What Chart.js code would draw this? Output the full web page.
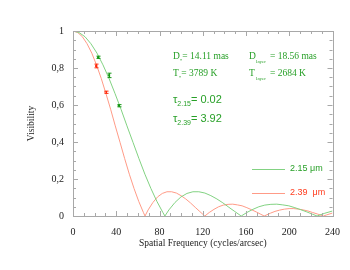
<!DOCTYPE html>
<html>
<head>
<meta charset="utf-8">
<script src="https://cdn.jsdelivr.net/npm/chart.js@4/dist/chart.umd.min.js"></script>
<style>
  body { margin: 0; background: #fff; }
  #wrap { width: 350px; height: 270px; }
</style>
</head>
<body>
<div id="wrap"><canvas id="visChart" width="350" height="270"></canvas></div>
<script>
// model curves (spatial frequency, visibility)
var greenFreq = [0, 5.5, 11.1, 16.6, 22.2, 27.7, 33.3, 38.8, 44.4, 49.9, 55.5, 61.0, 66.5, 72.1, 77.6, 83.2, 85.0,
  88.7, 94.3, 99.8, 105.4, 110.9, 116.4, 122.0, 127.5, 133.1, 138.6, 144.2, 149.7, 155.3, 155.6,
  160.8, 166.4, 171.9, 177.4, 183.0, 188.5, 194.1, 199.6, 205.2, 210.7, 216.3, 221.8, 225.7, 232.9, 240];
var greenVis = [1, 0.992, 0.969, 0.931, 0.880, 0.817, 0.744, 0.663, 0.577, 0.487, 0.398, 0.310, 0.226, 0.148, 0.079, 0.018, 0,
  0.033, 0.073, 0.103, 0.122, 0.131, 0.131, 0.124, 0.110, 0.092, 0.071, 0.047, 0.024, 0.001, 0,
  0.019, 0.036, 0.050, 0.059, 0.063, 0.064, 0.060, 0.055, 0.045, 0.034, 0.022, 0.009, 0, 0.015, 0.027];

var redFreq = [0, 4.3, 8.7, 13.0, 17.4, 21.7, 26.1, 30.4, 34.8, 39.1, 43.5, 47.8, 52.1, 56.5, 60.8, 65.2, 66.6,
  69.5, 73.9, 78.2, 82.6, 86.9, 91.2, 95.6, 99.9, 104.3, 108.6, 113.0, 117.3, 121.7, 121.9,
  126.0, 130.4, 134.7, 139.0, 143.4, 147.7, 152.1, 156.4, 160.8, 165.1, 169.5, 173.8, 176.8,
  182.5, 186.8, 191.2, 195.5, 199.9, 204.2, 208.6, 212.9, 217.3, 221.6, 225.9, 231.6, 234.6, 240];
var redVis = [1, 0.992, 0.969, 0.931, 0.880, 0.817, 0.744, 0.663, 0.577, 0.487, 0.398, 0.310, 0.226, 0.148, 0.079, 0.018, 0,
  0.033, 0.073, 0.103, 0.122, 0.131, 0.131, 0.124, 0.110, 0.092, 0.071, 0.047, 0.024, 0.001, 0,
  0.019, 0.036, 0.050, 0.059, 0.063, 0.064, 0.060, 0.055, 0.045, 0.034, 0.022, 0.009, 0,
  0.015, 0.025, 0.032, 0.037, 0.040, 0.040, 0.037, 0.033, 0.027, 0.019, 0.011, 0, 0.006, 0.016];

// measured points with errors
var obsGreenFreq = [23.3, 33.3, 42.4];
var obsGreenVis = [0.858, 0.760, 0.596];
var obsGreenErr = [0.006, 0.012, 0.006];
var obsRedFreq = [21.5, 30.3];
var obsRedVis = [0.811, 0.669];
var obsRedErr = [0.010, 0.006];

var legendLabels = ['2.15 \u03bcm', '2.39  \u03bcm'];
var xTicks = [0, 40, 80, 120, 160, 200, 240];
var yTicks = [0, 0.2, 0.4, 0.6, 0.8, 1];

var GREEN_LINE = 'rgb(130,210,130)';
var GREEN_DARK = 'rgb(20,150,20)';
var GREEN_TEXT = 'rgb(40,160,40)';
var RED_LINE = 'rgb(255,155,135)';
var RED_DARK = 'rgb(255,40,10)';
var RED_TEXT = 'rgb(255,60,30)';
var AXIS_GRAY = '#a8a8a8';

function pts(xs, ys) {
    return xs.map(function (v, i) { return {x: v, y: ys[i]}; });
}

// frame + inside ticks on all four sides
var frameTicks = {
    id: 'frameTicks',
    afterDraw: function (chart) {
        var ctx = chart.ctx, a = chart.chartArea;
        var xs = chart.scales.x, ys = chart.scales.y;
        ctx.save();
        ctx.strokeStyle = AXIS_GRAY;
        ctx.lineWidth = 1;
        ctx.strokeRect(Math.round(a.left) + 0.5, Math.round(a.top) + 0.5,
            Math.round(a.right - a.left), Math.round(a.bottom - a.top));
        ctx.beginPath();
        for (var v = 0; v <= 240; v += 10) {
            var px = Math.round(xs.getPixelForValue(v)) + 0.5;
            var len = (v % 40 === 0) ? 5 : 3;
            ctx.moveTo(px, a.bottom); ctx.lineTo(px, a.bottom - len);
            ctx.moveTo(px, a.top); ctx.lineTo(px, a.top + len);
        }
        for (var k = 0; k <= 20; k++) {
            var py = Math.round(ys.getPixelForValue(k * 0.05)) + 0.5;
            var l2 = (k % 4 === 0) ? 5 : 3;
            ctx.moveTo(a.left, py); ctx.lineTo(a.left + l2, py);
            ctx.moveTo(a.right, py); ctx.lineTo(a.right - l2, py);
        }
        ctx.stroke();
        ctx.restore();
    }
};

// error bars for the measured points
var errorBars = {
    id: 'errorBars',
    afterDatasetsDraw: function (chart) {
        var ctx = chart.ctx, xs = chart.scales.x, ys = chart.scales.y;
        function draw(fx, fv, fe, color) {
            ctx.strokeStyle = color;
            ctx.lineWidth = 1;
            ctx.beginPath();
            for (var i = 0; i < fx.length; i++) {
                var px = Math.round(xs.getPixelForValue(fx[i])) + 0.5;
                var y1 = ys.getPixelForValue(fv[i] - fe[i]);
                var y2 = ys.getPixelForValue(fv[i] + fe[i]);
                ctx.moveTo(px, y1); ctx.lineTo(px, y2);
                ctx.moveTo(px - 2, y1); ctx.lineTo(px + 2, y1);
                ctx.moveTo(px - 2, y2); ctx.lineTo(px + 2, y2);
            }
            ctx.stroke();
        }
        ctx.save();
        draw(obsGreenFreq, obsGreenVis, obsGreenErr, GREEN_DARK);
        draw(obsRedFreq, obsRedVis, obsRedErr, RED_DARK);
        ctx.restore();
    }
};

// parameter text and the small legend inside the plot
var annotations = {
    id: 'annotations',
    afterDraw: function (chart) {
        var ctx = chart.ctx;
        ctx.save();
        ctx.textBaseline = 'alphabetic';
        ctx.textAlign = 'left';

        function subText(x, y, main, sub, rest, mainFont, subFont, subDy) {
            ctx.font = mainFont;
            ctx.fillText(main, x, y);
            x += ctx.measureText(main).width;
            ctx.font = subFont;
            ctx.fillText(sub, x, y + subDy);
            x += ctx.measureText(sub).width;
            ctx.font = mainFont;
            ctx.fillText(rest, x, y);
        }

        var serif = '9.5px "Liberation Serif"';
        var serifSub = '5px "Liberation Serif"';
        ctx.fillStyle = GREEN_TEXT;
        subText(173, 59, 'D', '*', '= 14.11 mas', serif, serifSub, 3);
        subText(173, 76, 'T', '*', '= 3789 K', serif, serifSub, 3);
        ctx.font = serif;
        ctx.fillText('D', 249, 59);
        ctx.fillText('T', 249, 76);
        ctx.font = serifSub;
        ctx.fillText('layer', 256, 63);
        ctx.fillText('layer', 256, 80);
        ctx.font = serif;
        ctx.fillText('= 18.56 mas', 270, 59);
        ctx.fillText('= 2684 K', 270, 76);

        var sans = '11px "Liberation Sans"';
        var sansSub = '7px "Liberation Sans"';
        subText(173, 103, '\u03c4', '2.15', '= 0.02', sans, sansSub, 3);
        subText(173, 122, '\u03c4', '2.39', '= 3.92', sans, sansSub, 3);

        // legend
        var rows = [
            {label: legendLabels[0], line: GREEN_LINE, text: GREEN_TEXT, y: 169},
            {label: legendLabels[1], line: RED_LINE, text: RED_TEXT, y: 193}
        ];
        ctx.font = '9px "Liberation Sans"';
        ctx.textBaseline = 'middle';
        rows.forEach(function (r) {
            ctx.strokeStyle = r.line;
            ctx.lineWidth = 1;
            ctx.beginPath();
            ctx.moveTo(252, r.y + 0.5); ctx.lineTo(285, r.y + 0.5);
            ctx.stroke();
            ctx.fillStyle = r.text;
            ctx.fillText(r.label, 290, r.y);
        });
        ctx.restore();
    }
};

var tickFont = {family: '"Liberation Serif"', size: 10};

var ctx = document.getElementById('visChart');
var visChart = new Chart(ctx, {
    type: 'scatter',
    data: {
        datasets: [
            {
                label: '2.15 model',
                data: pts(greenFreq, greenVis),
                showLine: true,
                borderColor: GREEN_LINE,
                borderWidth: 1,
                pointRadius: 0,
                tension: 0
            },
            {
                label: '2.39 model',
                data: pts(redFreq, redVis),
                showLine: true,
                borderColor: RED_LINE,
                borderWidth: 1,
                pointRadius: 0,
                tension: 0
            },
            {
                label: '2.15 data',
                data: pts(obsGreenFreq, obsGreenVis),
                pointStyle: 'rect',
                pointRadius: 1.6,
                backgroundColor: GREEN_DARK,
                borderColor: GREEN_DARK,
                borderWidth: 0
            },
            {
                label: '2.39 data',
                data: pts(obsRedFreq, obsRedVis),
                pointStyle: 'rect',
                pointRadius: 1.6,
                backgroundColor: RED_DARK,
                borderColor: RED_DARK,
                borderWidth: 0
            }
        ]
    },
    options: {
        responsive: false,
        animation: false,
        layout: {padding: {top: 31, right: 14, left: 0, bottom: 0}},
        plugins: {legend: {display: false}, tooltip: {enabled: false}},
        scales: {
            x: {
                type: 'linear',
                min: 0,
                max: 240,
                afterFit: function (s) { s.height = 54; },
                afterBuildTicks: function (s) { s.ticks = xTicks.map(function (v) { return {value: v}; }); },
                grid: {display: false, drawTicks: false},
                border: {display: false},
                ticks: {font: tickFont, color: '#222', padding: 10, maxRotation: 0},
                title: {
                    display: true,
                    text: 'Spatial Frequency (cycles/arcsec)',
                    font: {family: '"Liberation Serif"', size: 9.5},
                    color: '#222',
                    padding: {top: 0, bottom: 21}
                }
            },
            y: {
                type: 'linear',
                min: 0,
                max: 1,
                afterFit: function (s) { s.width = 73; },
                afterBuildTicks: function (s) { s.ticks = yTicks.map(function (v) { return {value: v}; }); },
                grid: {display: false, drawTicks: false},
                border: {display: false},
                ticks: {
                    font: tickFont,
                    color: '#222',
                    padding: 9,
                    callback: function (v) { return String(Math.round(v * 10) / 10).replace('.', ','); }
                },
                title: {
                    display: true,
                    text: 'Visibility',
                    font: {family: '"Liberation Serif"', size: 9.5},
                    color: '#222',
                    padding: {top: 26, bottom: 0}
                }
            }
        }
    },
    plugins: [frameTicks, errorBars, annotations]
});
</script>
</body>
</html>
